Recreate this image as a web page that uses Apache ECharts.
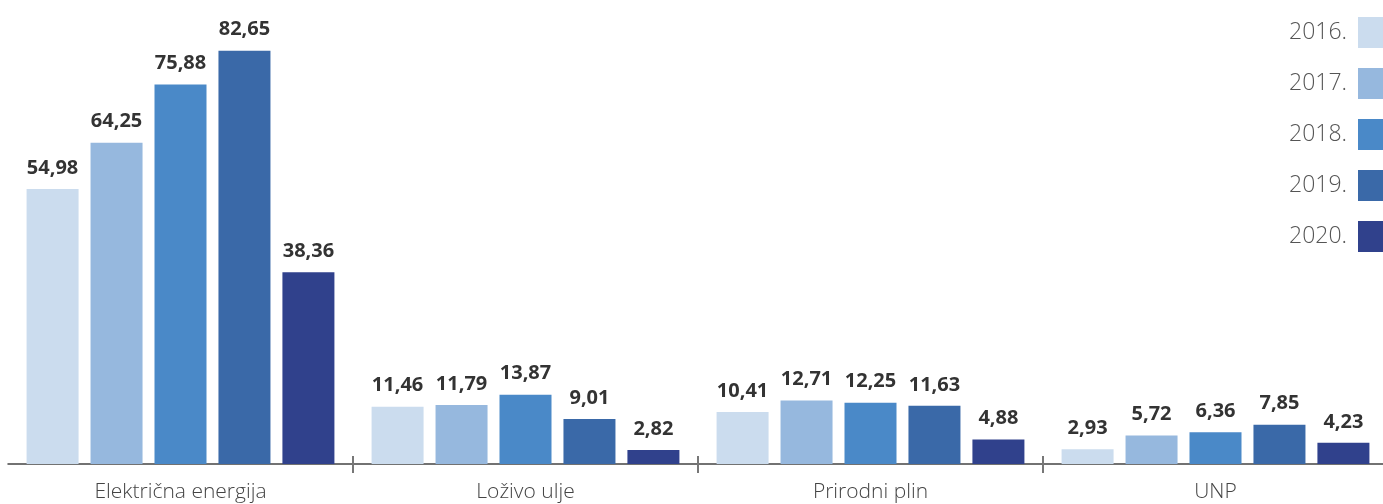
<!DOCTYPE html>
<html>
<head>
<meta charset="utf-8">
<script src="https://cdn.jsdelivr.net/npm/echarts@6/dist/echarts.min.js"></script>
<style>
  html, body { margin: 0; padding: 0; background: #fff; }
  #chart { width: 1383px; height: 504px; }
</style>
</head>
<body>
<div id="chart"></div>
<script>
const categories = ['Električna energija', 'Loživo ulje', 'Prirodni plin', 'UNP'];
const years = ['2016.', '2017.', '2018.', '2019.', '2020.'];
const values2016 = [54.98, 11.46, 10.41, 2.93];
const values2017 = [64.25, 11.79, 12.71, 5.72];
const values2018 = [75.88, 13.87, 12.25, 6.36];
const values2019 = [82.65, 9.01, 11.63, 7.85];
const values2020 = [38.36, 2.82, 4.88, 4.23];

const seriesData = [values2016, values2017, values2018, values2019, values2020];
const colors = ['#cbdcee', '#96b8de', '#4a89c8', '#3a69a8', '#30418c'];
const fontFamily = '"Open Sans", "Noto Sans", sans-serif';

const chart = echarts.init(document.getElementById('chart'));

// ticks only between categories, not at the left edge
const tickInterval = (index) => index > 0;

const option = {
  animation: false,
  color: colors,
  textStyle: { fontFamily },
  grid: {
    left: 8,
    width: 1380,
    top: 14,
    bottom: 40,
    outerBoundsMode: 'none',
  },
  legend: {
    data: years,
    orient: 'vertical',
    align: 'right',
    right: -6,
    top: 17,
    padding: 0,
    itemWidth: 31,
    itemHeight: 31,
    itemGap: 20,
    icon: 'rect',
    selectedMode: false,
    textStyle: {
      fontFamily,
      fontSize: 23,
      fontWeight: 300,
      color: '#555',
      padding: [0, 6, 0, 0],
    },
  },
  xAxis: [
    {
      type: 'category',
      data: categories,
      axisLine: { lineStyle: { color: '#444', width: 1.5 } },
      axisTick: { show: true, interval: tickInterval, length: 9, lineStyle: { color: '#777', width: 2 } },
      axisLabel: {
        fontFamily,
        fontSize: 21,
        fontWeight: 300,
        color: '#444',
        margin: 18,
      },
    },
    {
      type: 'category',
      data: categories,
      position: 'bottom',
      axisLine: { show: false },
      axisTick: { show: true, inside: true, interval: tickInterval, length: 8, lineStyle: { color: '#777', width: 2 } },
      axisLabel: { show: false },
    },
  ],
  yAxis: {
    type: 'value',
    min: 0,
    max: 90,
    show: false,
    splitLine: { show: false },
  },
  series: seriesData.map((data, i) => ({
    name: years[i],
    type: 'bar',
    data,
    barWidth: 52,
    barGap: '23%',
    label: {
      show: true,
      position: 'top',
      distance: 11,
      fontFamily,
      fontSize: 20,
      fontWeight: 'bold',
      color: '#333',
      formatter: (p) => p.value.toFixed(2).replace('.', ','),
    },
  })),
};

chart.setOption(option);
</script>
</body>
</html>
